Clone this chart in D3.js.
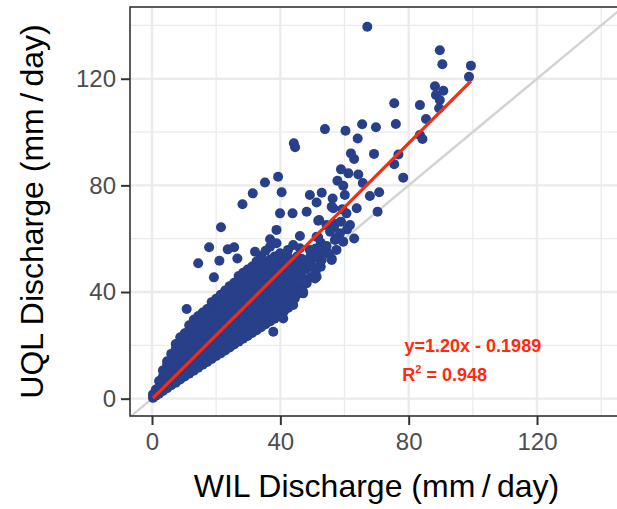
<!DOCTYPE html>
<html>
<head>
<meta charset="utf-8">
<script src="https://cdn.jsdelivr.net/npm/d3@7"></script>
<style>
  body { margin: 0; background: #fff; }
  text { font-family: "Liberation Sans", Arial, Helvetica, sans-serif; }
</style>
</head>
<body>
<svg id="chart" width="617" height="509"></svg>
<script>
// WIL vs UQL daily discharge (mm/day), [WIL, UQL]
// scattered points
var outerPoints = [
  [67.1,139.5],[89.7,130.7],[90.5,125.4],[99.4,124.9],[98.8,120.7],[88.2,117.2],[90.8,115.5],
  [88.5,113.9],[89.7,112],[89.5,108.9],[75.5,110.8],[83.5,110.1],[85.4,104.9],[53.9,101.1],
  [60.3,100.5],[65.5,102.9],[69.8,101.8],[76,103],[64.1,97.6],[83.5,98.9],[84.3,97.4],
  [44.2,95.8],[44.6,94.3],[62,92],[63,89.9],[69.2,91.8],[76.8,91.6],[75.5,87.9],[78.3,82.9],
  [58.9,86],[61.2,84.5],[64.3,84.1],[57.8,81.7],[65.7,80.9],[59.6,79.9],[60.1,76.4],[49.2,76.4],
  [52.9,77.2],[51.3,73.6],[56.3,75.1],[67.9,76],[70.8,77.4],[70.3,70.1],[63.8,71.4],[48.2,70.1],
  [56.5,71.4],[59.3,71],[60.6,69.5],[56,72],[35.2,81.1],[39.3,83.2],[40.4,77.4],[31.4,77],
  [28.2,72.9],[39.9,69.5],[43.8,69.5],[21.5,64.3],[38.8,63.3],[52.1,67],[57,65.5],[61.7,65.1],
  [17.8,56.8],[23.6,56],[25.6,56.8],[14.4,50.8],[21,51.7],[26.6,52.6],[32.1,55.1],[19.3,45.5],
  [10.8,33.6],[46.1,61],[63,60.1],[56.7,64.3],[58.6,62],[57,59.5],[59.6,58.9],[51.8,66.7],
  [54.4,65.1],[55.5,62.6],[57.5,60.1],[58.9,66.4],[60.8,63.5],[51.8,60.5],[53.4,57],[54.9,54.5],
  [52.9,52],[49.7,49.5],[50.8,45.1],[48.2,43.3],[44,57.6],[42.4,55.8],[39.9,54.5],[37.8,52],
  [35.7,50.1],[57.5,55.8],[56,52],[50.2,45.7],[47.1,39.5],[44,35.1],[40.9,30.1],[37.8,25.1],
  [36.8,59.8],[38.8,58.3],[42,54.5],[46.1,56.4],[49.2,55.8],[51.3,60.7],[54.4,57.3],[56,52.6],
  [52.3,50.1],[51.3,45.7],[47.1,40.1],[44,42],[44.5,37.6]
];

// dense cloud near the origin, read column by column
var densePoints = [
  [0.3,0.3],[0.3,1.6],[1.2,1.1],[1.2,3.4],[2.2,1.9],[2.2,4.3],[2.2,6.6],
  [3.4,2.9],[3.4,5.6],[3.4,8.3],[3.4,10.6],
  [4.7,3.9],[4.7,6.8],[4.7,9.7],[4.7,12.6],[4.7,14],
  [6,5],[6,8],[6,11],[6,14],[6,16.8],
  [7.4,6],[7.4,9.2],[7.4,12.4],[7.4,15.6],[7.4,18.7],[7.4,20.5],
  [8.8,7.2],[8.8,10.4],[8.8,13.6],[8.8,16.8],[8.8,20],[8.8,23],
  [10.2,8.3],[10.2,11.5],[10.2,14.8],[10.2,18],[10.2,21.2],[10.2,24.5],
  [11.6,9.4],[11.6,12.7],[11.6,16],[11.6,19.2],[11.6,22.4],[11.6,25.7],[11.6,27.5],
  [13,10.5],[13,13.8],[13,17.1],[13,20.4],[13,23.7],[13,27],[13,29.6],
  [14.4,11.6],[14.4,14.9],[14.4,18.2],[14.4,21.5],[14.4,24.8],[14.4,28.1],[14.4,31],
  [15.8,12.7],[15.8,16],[15.8,19.3],[15.8,22.6],[15.8,25.9],[15.8,29.2],[15.8,32.3],
  [17.2,13.8],[17.2,17.1],[17.2,20.4],[17.2,23.7],[17.2,27],[17.2,30.3],[17.2,33.6],
  [18.6,14.9],[18.6,18.2],[18.6,21.5],[18.6,24.8],[18.6,28.1],[18.6,31.4],[18.6,34.7],[18.6,36.2],
  [20,16],[20,19.3],[20,22.6],[20,25.9],[20,29.2],[20,32.5],[20,35.8],[20,37.5],
  [21.4,17],[21.4,20.4],[21.4,23.7],[21.4,27],[21.4,30.3],[21.4,33.6],[21.4,36.9],[21.4,39],
  [22.8,18.1],[22.8,21.5],[22.8,24.8],[22.8,28.1],[22.8,31.4],[22.8,34.7],[22.8,38],[22.8,40.6],
  [24.2,19.2],[24.2,22.6],[24.2,25.9],[24.2,29.2],[24.2,32.5],[24.2,35.8],[24.2,39.1],[24.2,42.2],
  [25.6,20.3],[25.6,23.7],[25.6,27],[25.6,30.3],[25.6,33.6],[25.6,36.9],[25.6,40.2],[25.6,43.5],
  [27,21.4],[27,24.8],[27,28.1],[27,31.4],[27,34.7],[27,38],[27,41.3],[27,44.6],[27,46],
  [28.4,22.5],[28.4,25.9],[28.4,29.2],[28.4,32.5],[28.4,35.8],[28.4,39.1],[28.4,42.4],[28.4,45.7],[28.4,47.2],
  [29.8,23.5],[29.8,26.9],[29.8,30.2],[29.8,33.5],[29.8,36.8],[29.8,40.1],[29.8,43.4],[29.8,46.7],[29.8,48.4],
  [31.2,24.6],[31.2,28],[31.2,31.3],[31.2,34.6],[31.2,37.9],[31.2,41.2],[31.2,44.5],[31.2,47.8],[31.2,49.6],
  [32.6,25.7],[32.6,29.1],[32.6,32.4],[32.6,35.7],[32.6,39],[32.6,42.3],[32.6,45.6],[32.6,48.9],[32.6,51.5],
  [34,26.8],[34,30.2],[34,33.5],[34,36.8],[34,40.1],[34,43.4],[34,46.7],[34,50],[34,53.5],
  [35.4,27.9],[35.4,31.3],[35.4,34.6],[35.4,37.9],[35.4,41.2],[35.4,44.5],[35.4,47.8],[35.4,51.1],[35.4,55.5],
  [36.8,29],[36.8,32.4],[36.8,35.7],[36.8,39],[36.8,42.3],[36.8,45.6],[36.8,48.9],[36.8,52.2],[36.8,57],
  [38.2,30],[38.2,33.5],[38.2,36.8],[38.2,40.1],[38.2,43.4],[38.2,46.7],[38.2,50],[38.2,53.3],
  [39.6,31.1],[39.6,34.6],[39.6,37.9],[39.6,41.2],[39.6,44.5],[39.6,47.8],[39.6,51.1],
  [41,32.5],[41,35.7],[41,39],[41,42.3],[41,45.6],[41,48.9],[41,52.2],
  [42.4,34],[42.4,37],[42.4,40.2],[42.4,43.4],[42.4,46.7],[42.4,50],[42.4,53],
  [43.8,37.3],[43.8,40.5],[43.8,44.7],[43.8,48],[43.8,51.3],
  [45.2,39.2],[45.2,43.5],[45.2,46.8],[45.2,50],[45.2,53.3],
  [46.6,41.3],[46.6,46],[46.6,49.3],[46.6,52.5],
  [48,43.3],[48,48.6],[48,51.8],
  [49.4,45.5],[49.4,50.5],[49.4,53.5],
  [51,47.5],[51,53],[51,56.3],
  [52.6,49.5],[52.6,55],[52.6,58.5]
];

var fitSlope = 1.20;
var fitIntercept = -0.1989;
var fitR2 = 0.948;

var xTicks = [0, 40, 80, 120];
var yTicks = [0, 40, 80, 120];
var minorTicks = [20, 60, 100, 140];

var xLabel = "WIL Discharge (mm\u2009/\u2009day)";
var yLabel = "UQL Discharge (mm\u2009/\u2009day)";

var pointColor = "#283F8A";
var fitColor = "#FF2A0C";

var svg = d3.select("#chart");
var panel = { left: 130, top: 7, right: 623, bottom: 416 };

var x = d3.scaleLinear().domain([-6.86, 146.8]).range([panel.left, panel.right]);
var y = d3.scaleLinear().domain([-6.5, 146.9]).range([panel.bottom, panel.top]);

svg.append("defs").append("clipPath").attr("id", "clip")
  .append("rect")
  .attr("x", panel.left).attr("y", panel.top)
  .attr("width", panel.right - panel.left).attr("height", panel.bottom - panel.top);

var plot = svg.append("g").attr("clip-path", "url(#clip)");

// grid
plot.selectAll(".vminor").data(minorTicks).enter().append("line")
  .attr("x1", d => x(d)).attr("x2", d => x(d))
  .attr("y1", panel.top).attr("y2", panel.bottom)
  .attr("stroke", "#EBEBEB").attr("stroke-width", 1.3);
plot.selectAll(".hminor").data(minorTicks).enter().append("line")
  .attr("y1", d => y(d)).attr("y2", d => y(d))
  .attr("x1", panel.left).attr("x2", panel.right)
  .attr("stroke", "#EBEBEB").attr("stroke-width", 1.3);
plot.selectAll(".vmajor").data(xTicks).enter().append("line")
  .attr("x1", d => x(d)).attr("x2", d => x(d))
  .attr("y1", panel.top).attr("y2", panel.bottom)
  .attr("stroke", "#EBEBEB").attr("stroke-width", 2.4);
plot.selectAll(".hmajor").data(yTicks).enter().append("line")
  .attr("y1", d => y(d)).attr("y2", d => y(d))
  .attr("x1", panel.left).attr("x2", panel.right)
  .attr("stroke", "#EBEBEB").attr("stroke-width", 2.4);

// 1:1 line
plot.append("line")
  .attr("x1", x(-10)).attr("y1", y(-10))
  .attr("x2", x(160)).attr("y2", y(160))
  .attr("stroke", "#D3D3D3").attr("stroke-width", 2.4);

var allPoints = densePoints.concat(outerPoints);

plot.selectAll(".pt").data(allPoints).enter().append("circle")
  .attr("class", "pt")
  .attr("cx", d => x(d[0]))
  .attr("cy", d => y(d[1]))
  .attr("r", 5)
  .attr("fill", pointColor);

// fitted line over the data range
var xr = d3.extent(allPoints, d => d[0]);
plot.append("line")
  .attr("x1", x(xr[0])).attr("y1", y(fitSlope * xr[0] + fitIntercept))
  .attr("x2", x(xr[1])).attr("y2", y(fitSlope * xr[1] + fitIntercept))
  .attr("stroke", fitColor).attr("stroke-width", 3.2);

// annotations
svg.append("text")
  .attr("x", x(100)).attr("y", y(19.4))
  .attr("text-anchor", "middle").attr("dominant-baseline", "middle")
  .attr("fill", fitColor).attr("font-weight", "bold").attr("font-size", 18)
  .text("y=" + fitSlope.toFixed(2) + "x - " + Math.abs(fitIntercept));
var r2 = svg.append("text")
  .attr("x", x(91.2)).attr("y", y(8.4))
  .attr("text-anchor", "middle").attr("dominant-baseline", "middle")
  .attr("fill", fitColor).attr("font-weight", "bold").attr("font-size", 18);
r2.append("tspan").text("R");
r2.append("tspan").attr("font-size", 11).attr("dy", -6).text("2");
r2.append("tspan").attr("dy", 6).text(" = " + fitR2);

// panel border
svg.append("rect")
  .attr("x", panel.left).attr("y", panel.top)
  .attr("width", panel.right - panel.left + 20).attr("height", panel.bottom - panel.top)
  .attr("fill", "none").attr("stroke", "#333333").attr("stroke-width", 1.6);

// axes
var xAxis = svg.append("g")
  .attr("transform", "translate(0," + panel.bottom + ")")
  .call(d3.axisBottom(x).tickValues(xTicks).tickSize(9).tickPadding(8));
var yAxis = svg.append("g")
  .attr("transform", "translate(" + panel.left + ",0)")
  .call(d3.axisLeft(y).tickValues(yTicks).tickSize(9).tickPadding(5));

[xAxis, yAxis].forEach(function(a) {
  a.select(".domain").remove();
  a.selectAll(".tick line").attr("stroke", "#333333").attr("stroke-width", 2);
  a.selectAll(".tick text")
    .attr("fill", "#4D4D4D")
    .style("font-size", "24px")
    .style("font-family", "'Liberation Sans', Arial, sans-serif");
});

svg.append("text")
  .attr("x", (panel.left + panel.right) / 2).attr("y", 497)
  .attr("text-anchor", "middle")
  .attr("font-size", 32).attr("fill", "#000")
  .text(xLabel);

svg.append("text")
  .attr("transform", "translate(43," + (panel.top + panel.bottom) / 2 + ") rotate(-90)")
  .attr("text-anchor", "middle")
  .attr("font-size", 32).attr("fill", "#000")
  .text(yLabel);
</script>
</body>
</html>
